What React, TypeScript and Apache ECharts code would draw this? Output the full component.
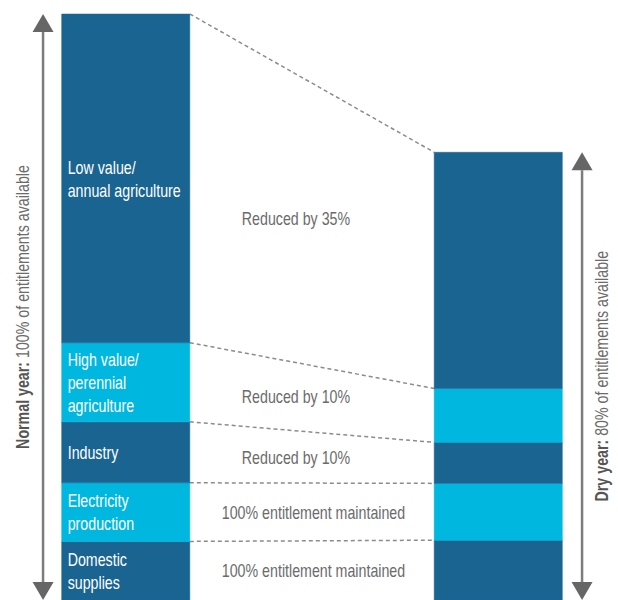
import React, { useEffect, useRef } from "react";
import * as echarts from "echarts";

// ---------------- data ----------------
const yearTitles = ["Normal year:", "Dry year:"];
const yearSubtitles = [" 100% of entitlements available", " 80% of entitlements available"];
const sectorLabels = [
  "Domestic\nsupplies",
  "Electricity\nproduction",
  "Industry",
  "High value/\nperennial\nagriculture",
  "Low value/\nannual agriculture",
];
const normalYearValues = [10, 10, 10.4, 13.5, 56.1];
const dryYearValues = [10.2, 9.7, 7.0, 9.2, 40.3];
const changeLabels = [
  "100% entitlement maintained",
  "100% entitlement maintained",
  "Reduced by 10%",
  "Reduced by 10%",
  "Reduced by 35%",
];

// ---------------- layout / style ----------------
const BAR_W = 0.344;
const ARROW_X = [-0.222, 1.225];
const CHANGE_LABEL_X = [0.504, 0.504, 0.457, 0.457, 0.457];
const SECTOR_COLORS = ["#1a6492", "#00b7df", "#1a6492", "#00b7df", "#1a6492"];
const FONT = "'Liberation Sans', Arial, sans-serif";
const FS = 18;
const SQUEEZE = 0.79;

function cumulative(arr: number[]) {
  let s = 0;
  return arr.map((v) => (s += v));
}

export default function App() {
  const ref = useRef<HTMLDivElement>(null);

  useEffect(() => {
    if (!ref.current) return;
    const chart = echarts.init(ref.current, undefined, { renderer: "svg" });

    const years = [normalYearValues, dryYearValues];
    const cums = years.map(cumulative);

    const segData: number[][] = [];
    years.forEach((vals, yi) => {
      let s = 0;
      vals.forEach((v, si) => {
        segData.push([yi, s, s + v, si]);
        s += v;
      });
    });

    const xL = BAR_W / 2;
    const xR = 1 - BAR_W / 2;
    const lineAt = (i: number, x: number) => {
      const a = cums[0][i];
      const b = cums[1][i];
      return a + ((b - a) * (x - xL)) / (xR - xL);
    };

    const connectorSeries = cums[0].map((a, i) => ({
      type: "line",
      silent: true,
      symbol: "none",
      z: 1,
      lineStyle: { color: "#8c8c8c", width: 1.5, type: [4, 3] },
      data: [
        [xL, a],
        [xR, cums[1][i]],
      ],
    }));

    const changeData = changeLabels.map((_, i) => {
      const lx = CHANGE_LABEL_X[i];
      const upper = lineAt(i, lx);
      const lower = i === 0 ? 0 : lineAt(i - 1, lx);
      return [lx, (upper + lower) / 2, i];
    });

    const arrowData = ARROW_X.map((x, i) => [x, 0, cums[i][cums[i].length - 1], i]);

    const option: any = {
      animation: false,
      grid: { left: 14, right: 8, top: 14, bottom: 0 },
      xAxis: { type: "value", min: -0.3, max: 1.3, show: false },
      yAxis: { type: "value", min: 0, max: 100, show: false },
      series: [
        ...connectorSeries,
        {
          type: "custom",
          silent: true,
          z: 2,
          encode: { x: 0, y: [1, 2] },
          data: segData,
          renderItem: (params: any, api: any) => {
            const xi = api.value(0);
            const y0 = api.value(1);
            const y1 = api.value(2);
            const si = api.value(3);
            const pb = api.coord([xi, y0]);
            const pt = api.coord([xi, y1]);
            const w = api.size([BAR_W, 0])[0];
            const children: any[] = [
              {
                type: "rect",
                shape: { x: pb[0] - w / 2, y: pt[1], width: w, height: pb[1] - pt[1] },
                style: { fill: SECTOR_COLORS[si], stroke: SECTOR_COLORS[si], lineWidth: 0.5 },
              },
            ];
            if (xi === 0) {
              children.push({
                type: "text",
                x: pb[0] - w / 2 + 6,
                y: (pb[1] + pt[1]) / 2,
                scaleX: SQUEEZE,
                style: {
                  text: sectorLabels[si],
                  fill: "#ffffff",
                  fontSize: FS,
                  fontFamily: FONT,
                  align: "left",
                  verticalAlign: "middle",
                  lineHeight: 23,
                },
              });
            }
            return { type: "group", children };
          },
        },
        {
          type: "custom",
          silent: true,
          z: 3,
          encode: { x: 0, y: 1 },
          data: changeData,
          renderItem: (params: any, api: any) => {
            const p = api.coord([api.value(0), api.value(1)]);
            return {
              type: "text",
              x: p[0],
              y: p[1],
              scaleX: SQUEEZE,
              style: {
                text: changeLabels[api.value(2)],
                fill: "#6b6b6b",
                fontSize: FS,
                fontFamily: FONT,
                align: "center",
                verticalAlign: "middle",
              },
            };
          },
        },
        {
          type: "custom",
          silent: true,
          z: 3,
          encode: { x: 0, y: [1, 2] },
          data: arrowData,
          renderItem: (params: any, api: any) => {
            const x = api.value(0);
            const idx = api.value(3);
            const p0 = api.coord([x, api.value(1)]);
            const p1 = api.coord([x, api.value(2)]);
            const hh = 18;
            const hw = 10.5;
            return {
              type: "group",
              children: [
                {
                  type: "line",
                  shape: { x1: p0[0], y1: p0[1] - hh, x2: p1[0], y2: p1[1] + hh },
                  style: { stroke: "#7d7d7d", lineWidth: 2.5 },
                },
                {
                  type: "polygon",
                  shape: { points: [[p1[0], p1[1]], [p1[0] - hw, p1[1] + hh], [p1[0] + hw, p1[1] + hh]] },
                  style: { fill: "#666666" },
                },
                {
                  type: "polygon",
                  shape: { points: [[p0[0], p0[1]], [p0[0] - hw, p0[1] - hh], [p0[0] + hw, p0[1] - hh]] },
                  style: { fill: "#666666" },
                },
                {
                  type: "text",
                  x: p0[0] + (idx === 0 ? -21 : 19),
                  y: (p0[1] + p1[1]) / 2,
                  rotation: Math.PI / 2,
                  scaleX: SQUEEZE,
                  style: {
                    text: "{b|" + yearTitles[idx] + "}" + yearSubtitles[idx],
                    fill: "#6b6b6b",
                    fontSize: FS,
                    fontFamily: FONT,
                    align: "center",
                    verticalAlign: "middle",
                    rich: {
                      b: { fontWeight: "bold", fill: "#555555", fontSize: FS, fontFamily: FONT },
                    },
                  },
                },
              ],
            };
          },
        },
      ],
    };

    chart.setOption(option);
    return () => chart.dispose();
  }, []);

  return <div ref={ref} style={{ position: "absolute", left: 0, top: 0, width: 618, height: 600 }} />;
}
